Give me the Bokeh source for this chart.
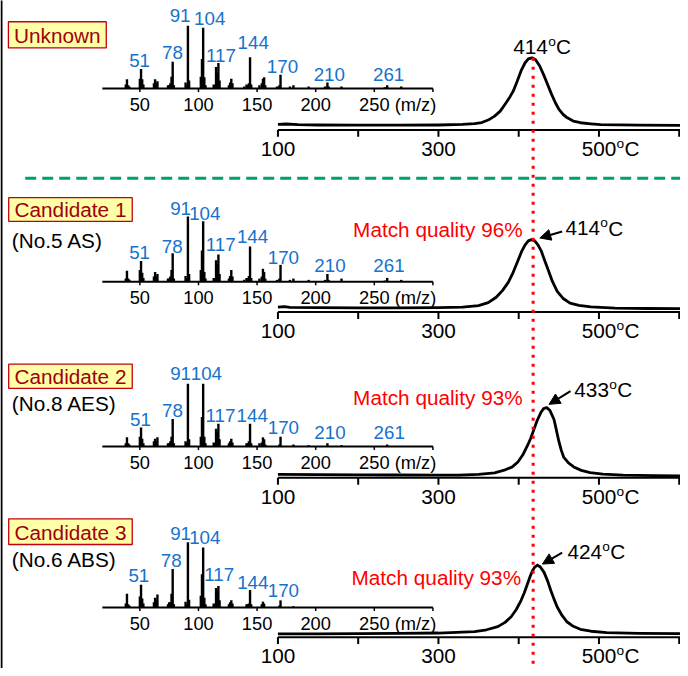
from bokeh.plotting import figure
from bokeh.models import Range1d, Arrow, NormalHead
from bokeh.core.properties import value
from bokeh.embed import file_html
from bokeh.resources import INLINE

# ---------------- data ----------------
row_titles = ["Unknown", "Candidate 1", "Candidate 2", "Candidate 3"]
row_subtitles = ["", "(No.5 AS)", "(No.8 AES)", "(No.6 ABS)"]
match_quality = [None, 96, 93, 93]          # %
peak_temp_labels = [414, 414, 433, 424]      # degC
reference_line_T = 418                       # dotted reference line as drawn

# mass spectra (m/z, relative intensity)
ms_mz_unknown = [38,39,40,41,50,51,52,53,62,63,64,65,74,75,76,77,78,79,89,90,91,92,102,103,104,105,106,
                 113,114,115,116,117,118,126,127,128,129,139,141,142,143,144,145,152,154,155,156,157,
                 167,169,170,178,181,194,208,210,211,222,259,261,273]
ms_int_unknown = [6,14,5,3,15,30,14,6,8,14,8,11,5,5,8,18,41,5,9,5,96,12,18,45,93,17,5,
                  6,5,33,24,39,12,5,9,15,8,3,6,5,8,48,6,5,8,15,17,5,
                  3,5,21,3,5,3,3,9,3,3,2,5,3]
ms_mz_c1 = list(ms_mz_unknown)
ms_int_c1 = [5,17,5,3,18,32,14,6,8,15,8,12,5,5,8,18,44,5,9,5,100,12,18,48,93,15,5,
             6,5,33,27,42,12,5,9,18,8,3,6,6,9,54,6,5,8,20,15,5,
             3,5,26,3,5,3,3,12,3,5,2,6,3]
ms_mz_c2 = [38,39,40,41,50,51,52,53,62,63,64,65,74,75,76,77,78,79,89,90,91,92,102,103,104,105,106,
            113,114,115,116,117,118,126,127,128,129,141,142,143,144,145,152,154,155,156,157,
            169,170,181,194,210,222,261]
ms_int_c2 = [5,14,5,3,15,29,12,5,8,12,8,14,5,5,8,15,42,5,8,5,96,11,15,45,96,15,5,
             6,5,27,23,35,11,5,8,12,6,5,5,8,35,5,5,6,14,11,3,
             3,15,3,2,5,2,3]
ms_mz_c3 = [38,39,40,41,50,51,52,53,62,63,64,65,74,75,76,77,78,79,89,90,91,92,102,103,104,105,106,
            113,114,115,116,117,118,126,127,128,129,141,142,143,144,145,154,155,156,169,170,181]
ms_int_c3 = [6,21,5,3,17,35,14,6,8,15,12,20,5,8,8,21,59,5,9,5,100,12,18,51,92,15,5,
             6,5,30,27,33,11,5,8,11,6,5,5,6,27,5,5,9,6,3,11,2]

ms_labels_full = ["51", "78", "91", "104", "117", "144", "170", "210", "261"]
ms_labels_c3 = ["51", "78", "91", "104", "117", "144", "170"]

# thermograms (temperature degC, intensity a.u.)
th_T_unknown = [100,110,125,150,200,250,300,330,345,354,362,370,377,383,388,393,398,403,408,412,
                416.5,421,426,431,436,441,446,450,455,460,468,477,490,502,550,602]
th_I_unknown = [5.7,6.0,5.3,5.0,4.8,4.8,5.0,5.6,6.5,7.5,10,14,19,26,32,39,49,60,68,72,
                73,71,65,56,46,36,27,21,16,12.5,9,7.3,6.2,5.4,4.9,4.7]
th_T_c1 = [100,108,115,150,200,250,300,330,350,362,372,380,387,393,399,404,408,412,416,420,
           424,428,432,437,442,448,455,464,475,490,520,560,602]
th_I_c1 = [5,5.5,4.8,4.5,4.3,4.3,4.5,5,6.5,9.5,15,22,30,40,52,62,68,72,73.3,72,
           68,62,53,42,31,21,14,9,6.8,5.3,4,3.6,3.5]
th_T_c2 = [100,150,200,250,300,325,350,370,382,392,399,405,411,415,419,423,427.6,431,435,439,
           444,447,450,453,456,462,468.6,478,489,505,530,570,602]
th_I_c2 = [3.5,3.2,3.0,2.8,2.7,2.7,3.5,5,7.7,11,16,23,32.7,40,49,58,66,70,71,68,
           59,48,37,28,21,15,11,7.5,5.3,3.8,2.7,2.2,2.0]
th_T_c3 = [100,150,200,250,300,345,360,374,383,390.6,397,403,407,411,414,417.2,420,423.4,427,431.6,
           436,440,444,448,454,460,468,476.8,490,509.6,550,602]
th_I_c3 = [3.3,3.3,3.5,3.8,4.2,5.6,7.5,10.7,15,20.7,28,37.3,45,54,61,67.3,71,73,71,65.6,
           57,47.3,38.5,30.6,22,15.6,11,8,6,4.6,3.8,3.5]

temp_ticks = [100, 200, 300, 400, 500, 600]
temp_label_ticks = [100, 300, 500]
temp_tick_labels = ["100", "300", "500"]
temp_unit_tick = 500
mz_ticks = [50, 100, 150, 200, 250, 300]
mz_label_ticks = [50, 100, 150, 200, 250]
mz_tick_labels = ["50", "100", "150", "200", "250 (m/z)"]

ms_series = [(ms_mz_unknown, ms_int_unknown), (ms_mz_c1, ms_int_c1),
             (ms_mz_c2, ms_int_c2), (ms_mz_c3, ms_int_c3)]
th_series = [(th_T_unknown, th_I_unknown), (th_T_c1, th_I_c1),
             (th_T_c2, th_I_c2), (th_T_c3, th_I_c3)]
ms_label_sets = [ms_labels_full, ms_labels_full, ms_labels_full, ms_labels_c3]

# ---------------- layout (reference pixel space) ----------------
W_REF = 688
Y_TOP, Y_BOT = 3, 679
W, H = 680, 668
S = W / W_REF
FONT = "Liberation Sans"
DIGIT = 0.556   # em width of a digit

T100_PX, PX_PER_DEG = 280.7, 0.812
MZ50_PX, PX_PER_MZ = 141.0, 1.186
MS_PX_PER_UNIT = 0.66

ms_base_px = [92, 287.7, 454.3, 617.3]
th_axis_px = [134, 318.3, 486, 647.3]
boxes = [(8, 107, 24.5, 51), (8.3, 133.3, 202.5, 226.5), (8.3, 133.3, 371, 395.5), (8.3, 133.3, 527.5, 553.5)]
sub_y = [None, 245.5, 410.5, 568.5]
ms_label_pos = [
    [(140.7, 63.3), (174, 56), (181.7, 18.3), (211.7, 21.7), (223, 58.3), (255.7, 45), (285.3, 70), (332.7, 77.7), (392.7, 77.7)],
    [(140.7, 258.3), (173.7, 251.7), (182.2, 213.3), (206.7, 218.3), (222.8, 250), (255, 242), (286.2, 262.7), (333.3, 270.7), (393, 270.7)],
    [(141.7, 426.7), (174, 418.3), (182.2, 380), (208.3, 380), (222.5, 423.3), (254.7, 423.3), (286.2, 435), (333.3, 440), (393.3, 440)],
    [(140, 585), (172.7, 570), (182.2, 542.7), (206.7, 546), (221.3, 584), (255.3, 591.7), (286.2, 600)],
]
peak_label_pos = [(548, 50), (600.8, 233.3), (609.8, 396.7), (602.8, 560.7)]
arrows = [None, ((568.3, 236.7), (545.7, 243.3)), ((576.7, 398.3), (555, 411.7)), ((568.3, 561.7), (548.3, 573.3))]
mq_pos = [None, (528.3, 235), (528.3, 405), (526.7, 586.7)]

BLUE = "#1672CC"
BOX_FILL = "#FFFFA8"
BOX_LINE = "#C00010"
BOX_TEXT = "#A0000C"
GREEN = "#00A06C"

p = figure(width=W, height=H, x_range=Range1d(0, W_REF), y_range=Range1d(Y_BOT, Y_TOP),
           output_backend="svg", toolbar_location=None,
           x_axis_location=None, y_axis_location=None, min_border=0,
           outline_line_color=None, background_fill_color="white", border_fill_color="white")
p.grid.visible = False

p.extra_x_ranges = {
    "tx": Range1d(100 - T100_PX / PX_PER_DEG, 100 + (W_REF - T100_PX) / PX_PER_DEG),
    "mz": Range1d(50 - MZ50_PX / PX_PER_MZ, 50 + (W_REF - MZ50_PX) / PX_PER_MZ),
}
for r in range(4):
    a = th_axis_px[r]
    p.extra_y_ranges[f"th{r}"] = Range1d(a - Y_BOT, a - Y_TOP)
    b = ms_base_px[r]
    p.extra_y_ranges[f"ms{r}"] = Range1d((b - Y_BOT) / MS_PX_PER_UNIT, (b - Y_TOP) / MS_PX_PER_UNIT)


def fs(px):
    return value(f"{px * S:.2f}px")


def txt(x, y, s, size, color="black", align="center", xr="default", x_offset=0):
    p.text(x=[x], y=[y], text=[s], text_font=value(FONT), text_font_size=fs(size),
           text_color=color, text_align=align, text_baseline="middle",
           x_offset=x_offset, x_range_name=xr)


def deg_txt(x, y, num, size, start_off, xr="default"):
    """number followed by a superscript o and C; start_off = left edge offset from x (ref px)."""
    w_num = len(num) * DIGIT * size
    so = size * 0.66
    w_o = DIGIT * so
    p.text(x=[x], y=[y], text=[num], text_font=value(FONT), text_font_size=fs(size),
           text_align="left", text_baseline="middle", x_offset=start_off * S, x_range_name=xr)
    p.text(x=[x], y=[y - 5.3], text=["o"], text_font=value(FONT), text_font_size=fs(so),
           text_align="left", text_baseline="middle", x_offset=(start_off + w_num + 0.3) * S,
           x_range_name=xr)
    p.text(x=[x], y=[y], text=["C"], text_font=value(FONT), text_font_size=fs(size),
           text_align="left", text_baseline="middle", x_offset=(start_off + w_num + w_o + 0.6) * S,
           x_range_name=xr)


# left border and separator
p.segment(x0=[1], y0=[Y_TOP - 5], x1=[1], y1=[Y_BOT + 5], line_color="black", line_width=2)
p.segment(x0=[25], y0=[183], x1=[W_REF], y1=[183], line_color=GREEN, line_width=3, line_dash="11 6")

for r in range(4):
    # title box
    l, rt, t, bt = boxes[r]
    p.quad(left=[l], right=[rt], top=[t], bottom=[bt], fill_color=BOX_FILL,
           line_color=BOX_LINE, line_width=1.3)
    txt((l + rt) / 2, (t + bt) / 2 + 0.5, row_titles[r], 21, color=BOX_TEXT)
    if row_subtitles[r]:
        txt(11.5, sub_y[r], row_subtitles[r], 21, align="left")

    # mass spectrum
    mz, inten = ms_series[r]
    yr = f"ms{r}"
    p.segment(x0=mz, y0=[0] * len(mz), x1=mz, y1=inten, line_color="black", line_width=2.4,
              x_range_name="mz", y_range_name=yr)
    p.segment(x0=[18], y0=[0], x1=[300], y1=[0], line_color="black", line_width=2,
              x_range_name="mz", y_range_name=yr)
    p.segment(x0=mz_ticks, y0=[0] * len(mz_ticks), x1=mz_ticks, y1=[-3.5 / MS_PX_PER_UNIT] * len(mz_ticks),
              line_color="black", line_width=1.5, x_range_name="mz", y_range_name=yr)
    for v, lab in zip(mz_label_ticks, mz_tick_labels):
        if "(" in lab:
            txt(v, ms_base_px[r] + 16, lab, 18.5, align="left", xr="mz", x_offset=-15.4 * S)
        else:
            txt(v, ms_base_px[r] + 16, lab, 18.5, xr="mz")
    for lab, (lx, ly) in zip(ms_label_sets[r], ms_label_pos[r]):
        txt(lx, ly, lab, 19, color=BLUE)

    # thermogram
    T, I = th_series[r]
    yr = f"th{r}"
    p.segment(x0=[100], y0=[0], x1=[602], y1=[0], line_color="black", line_width=2,
              x_range_name="tx", y_range_name=yr)
    p.segment(x0=temp_ticks, y0=[0] * len(temp_ticks), x1=temp_ticks, y1=[-7] * len(temp_ticks),
              line_color="black", line_width=2, x_range_name="tx", y_range_name=yr)
    p.line(T, I, line_color="black", line_width=2.8, line_join="round",
           x_range_name="tx", y_range_name=yr)
    for v, lab in zip(temp_label_ticks, temp_tick_labels):
        if v == temp_unit_tick:
            deg_txt(v, th_axis_px[r] + 19, lab, 21, -len(lab) * DIGIT * 21 / 2, xr="tx")
        else:
            txt(v, th_axis_px[r] + 19, lab, 21, xr="tx")

    # peak label / arrow / match quality
    px_, py_ = peak_label_pos[r]
    num = str(peak_temp_labels[r])
    so = 21 * 0.66
    total = len(num) * DIGIT * 21 + DIGIT * so + 0.6 + 0.722 * 21
    deg_txt(px_, py_, num, 21, -total / 2)
    if arrows[r]:
        (x0, y0), (x1, y1) = arrows[r]
        p.add_layout(Arrow(end=NormalHead(size=11 * S, fill_color="black", line_color="black", line_width=1),
                           x_start=x0, y_start=y0, x_end=x1, y_end=y1,
                           line_color="black", line_width=2))
    if match_quality[r] is not None:
        mx, my = mq_pos[r]
        txt(mx, my, f"Match quality {match_quality[r]}%", 21, color="#FF0000", align="right")

# dotted reference line
p.segment(x0=[reference_line_T], y0=[61], x1=[reference_line_T], y1=[Y_BOT + 5],
          line_color="#FF0000", line_width=3, line_dash="3 6", x_range_name="tx")

open("out.html", "w").write(file_html(p, INLINE))
